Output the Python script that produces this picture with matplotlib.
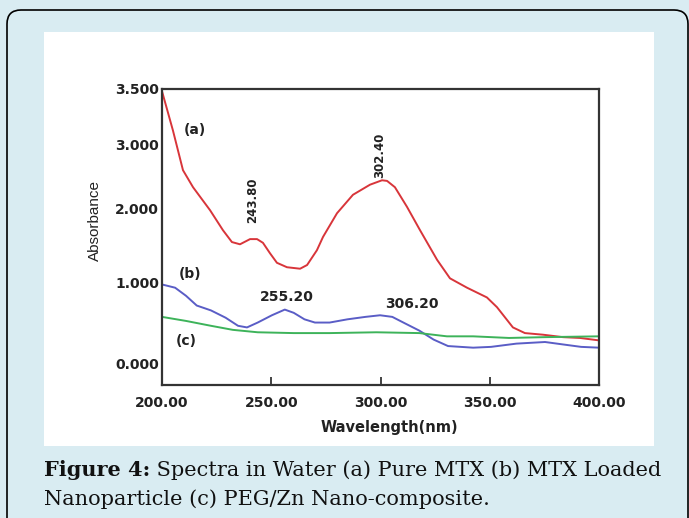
import numpy as np
import matplotlib
matplotlib.use('Agg')  # no display
import matplotlib.pyplot as plt
from matplotlib.patches import FancyBboxPatch, Rectangle
from matplotlib.transforms import IdentityTransform

# (a) pure MTX
wl_a = [200.0, 205.0, 209.6, 214.2, 222.0, 227.9, 232.0, 235.7, 240.3, 243.5,
        246.2, 249.4, 252.6, 257.2, 263.2, 266.4, 270.9, 273.7, 280.1, 287.4,
        295.2, 300.7, 303.0, 306.6, 312.1, 318.1, 325.9, 331.8, 339.6, 348.7,
        353.3, 360.6, 366.1, 374.4, 383.5, 391.3, 400.0]
abs_a = [3.48, 3.13, 2.60, 2.33, 1.97, 1.70, 1.54, 1.51, 1.58, 1.58,
         1.53, 1.39, 1.26, 1.20, 1.18, 1.23, 1.43, 1.61, 1.93, 2.21,
         2.37, 2.44, 2.43, 2.33, 2.02, 1.70, 1.30, 1.05, 0.93, 0.81,
         0.69, 0.44, 0.37, 0.35, 0.32, 0.31, 0.28]

# (b) MTX loaded nanoparticle
wl_b = [200.0, 206.0, 211.0, 215.9, 222.4, 229.1, 234.8, 238.9, 243.8, 250.3,
        256.2, 260.3, 265.2, 270.0, 276.7, 284.9, 293.1, 299.8, 305.4, 311.2,
        317.8, 324.3, 330.9, 342.4, 350.6, 362.2, 375.3, 383.5, 391.8, 400.0]
abs_b = [0.97, 0.93, 0.83, 0.71, 0.65, 0.56, 0.46, 0.44, 0.50, 0.59,
         0.66, 0.62, 0.54, 0.50, 0.50, 0.54, 0.57, 0.59, 0.57, 0.49,
         0.40, 0.29, 0.21, 0.19, 0.20, 0.24, 0.26, 0.23, 0.20, 0.19]

# (c) PEG/Zn nano-composite
wl_c = [200.0, 211.0, 222.4, 232.4, 243.8, 260.3, 276.7, 298.1, 317.8, 330.4,
        342.4, 358.8, 375.3, 400.0]
abs_c = [0.57, 0.52, 0.46, 0.41, 0.38, 0.37, 0.37, 0.38, 0.37, 0.33,
         0.33, 0.31, 0.32, 0.33]

x_ticks = [200, 250, 300, 350, 400]
y_ticks = [0.0, 1.0, 2.0, 3.0, 3.5]

# the printed absorbance axis is not evenly spaced: value -> axis fraction
y_knots = [-1.0, 0.0, 1.0, 2.0, 3.0, 3.5, 4.0]
y_fracs = [-0.2, 0.0743, 0.348, 0.598, 0.811, 1.0, 1.189]

W, H = 689, 518
fig = plt.figure(figsize=(W / 100, H / 100), dpi=100, facecolor='#d9ecf2')

# rounded frame and white picture panel (pixel coords)
frame = FancyBboxPatch((7, -20), 681, H - 10 + 20,
                       boxstyle='round,pad=0,rounding_size=14',
                       transform=IdentityTransform(), facecolor='none',
                       edgecolor='black', linewidth=1.2, zorder=-2)
panel = Rectangle((44, H - 446), 610, 414, transform=IdentityTransform(),
                  facecolor='white', edgecolor='none', zorder=-2)
fig.patches.extend([frame, panel])

ax = fig.add_axes([162 / W, 1 - 385 / H, 437 / W, 296 / H])
ax.set_facecolor('white')
ax.set_yscale('function', functions=(lambda v: np.interp(v, y_knots, y_fracs),
                                     lambda f: np.interp(f, y_fracs, y_knots)))

ax.plot(wl_a, abs_a, color='#d8353a', lw=1.4)
ax.plot(wl_b, abs_b, color='#5a5dc6', lw=1.4)
ax.plot(wl_c, abs_c, color='#3db35a', lw=1.4)

ax.set_xlim(200, 400)
ax.set_ylim(-0.27, 3.5)
ax.set_xticks(x_ticks)
ax.set_xticklabels([f'{t:.2f}' for t in x_ticks], fontsize=10, fontweight='bold')
ax.set_yticks(y_ticks)
ax.set_yticklabels([f'{t:.3f}' for t in y_ticks], fontsize=10, fontweight='bold')
ax.minorticks_off()
ax.tick_params(axis='x', direction='in', length=6, width=1.2, pad=8, colors='#222222')
ax.tick_params(axis='y', length=0, pad=2, colors='#222222')
for s in ax.spines.values():
    s.set_linewidth(1.6)
    s.set_color('#333333')

ax.set_xlabel('Wavelength(nm)', fontsize=10.5, fontweight='bold', color='#222222')
ax.xaxis.set_label_coords(0.52, -0.118)
ax.set_ylabel('Absorbance', fontsize=11, family='Liberation Sans', color='#222222', va='center')
ax.yaxis.set_label_coords(-0.153, 0.557)

lab = dict(fontsize=10, fontweight='bold', color='#222222', ha='center', va='center')
ax.text(215.1, 3.13, '(a)', **lab)
ax.text(212.8, 1.11, '(b)', **lab)
ax.text(211.0, 0.27, '(c)', **lab)
ax.text(257.2, 0.81, '255.20', **lab)
ax.text(314.4, 0.73, '306.20', **lab)
peak = dict(fontsize=8.5, fontweight='bold', color='#222222', ha='center', va='center', rotation=90)
ax.text(241.6, 2.13, '243.80', **peak)
ax.text(299.8, 2.83, '302.40', **peak)

# caption: bold lead-in followed by regular text on the same baseline
cap = dict(fontsize=15, family='DejaVu Serif', color='#111111', va='baseline')
t1 = fig.text(44 / W, 1 - 476 / H, 'Figure 4:', fontweight='bold', **cap)
fig.canvas.draw()
x1 = t1.get_window_extent().x1
fig.text(x1 / W, 1 - 476 / H, ' Spectra in Water (a) Pure MTX (b) MTX Loaded', **cap)
fig.text(44 / W, 1 - 505 / H, 'Nanoparticle (c) PEG/Zn Nano-composite.', **cap)

fig.savefig('out.png', dpi=100, facecolor=fig.get_facecolor())
